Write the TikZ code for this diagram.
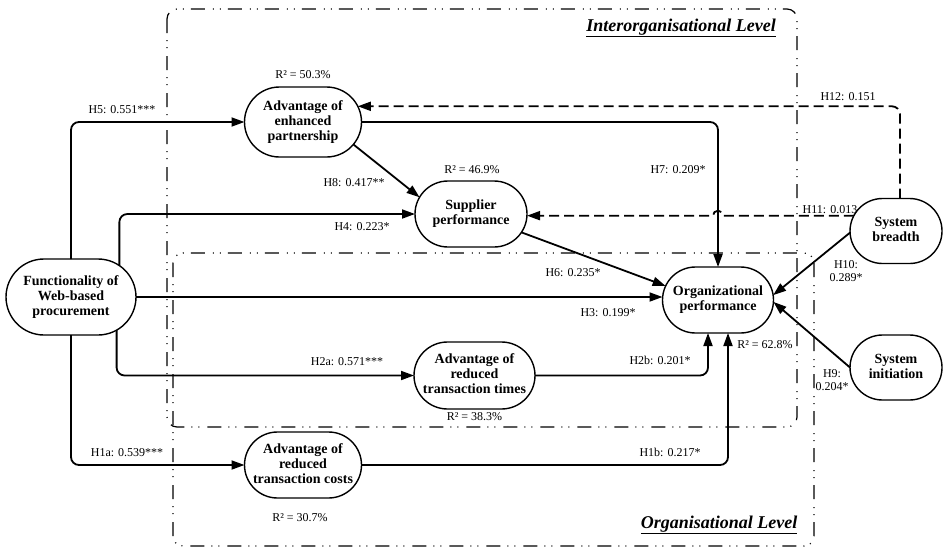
\documentclass[tikz,border=0pt]{standalone}
\usepackage{fontspec}
\setmainfont{Liberation Serif}
\usetikzlibrary{arrows.meta,shapes.misc,calc}
\newcommand\ntext[1]{\makebox[0pt]{\begin{tabular}{@{}c@{}}#1\end{tabular}}}
\begin{document}
\begin{tikzpicture}[x=1pt,y=-1pt,
  box/.style={rounded rectangle, draw, line width=1.4pt, fill=white, outer sep=0pt,
    inner xsep=0pt, inner ysep=0pt, font=\fontsize{14}{15}\selectfont\bfseries},
  lab/.style={font=\fontsize{12}{13}\selectfont, inner sep=0pt},
  arr/.style={line width=1.8pt, -{Triangle[length=13pt,width=9pt]}, rounded corners=8pt},
  darr/.style={arr, dash pattern=on 10pt off 5pt},
  level/.style={line width=1.2pt, dash pattern=on 14pt off 7pt on 1pt off 6pt on 1pt off 8pt, rounded corners=10pt},
  lvl/.style={font=\fontsize{18}{20}\selectfont\bfseries\itshape, inner sep=0pt}
]
\useasboundingbox (0,0) rectangle (944,549);

% level frames
\draw[level] (167,9) rectangle (797,427);
\draw[level] (173,253) rectangle (814,546);
\node[lvl] (L1) at (681,28) {\underline{Interorganisational Level}};
\node[lvl] (L2) at (719,525) {\underline{Organisational Level}};

% constructs
\node[box, minimum width=130pt, minimum height=76pt] (F) at (71,297) {\ntext{Functionality of\\Web-based\\procurement}};
\node[box, minimum width=117pt, minimum height=70pt] (P) at (303,122) {\ntext{Advantage of\\enhanced\\partnership}};
\node[box, minimum width=112pt, minimum height=66pt] (S) at (471,214) {\ntext{Supplier\\performance}};
\node[box, minimum width=111pt, minimum height=66pt] (O) at (718,300) {\ntext{Organizational\\performance}};
\node[box, minimum width=121pt, minimum height=67pt] (T) at (474.5,375.5) {\ntext{Advantage of\\reduced\\transaction times}};
\node[box, minimum width=117pt, minimum height=66pt] (C) at (303,465) {\ntext{Advantage of\\reduced\\transaction costs}};
\node[box, minimum width=92pt, minimum height=65pt] (B) at (896,231) {\ntext{System\\breadth}};
\node[box, minimum width=92pt, minimum height=65pt] (I) at (896,367.5) {\ntext{System\\initiation}};

% paths
\draw[arr] (F.north) |- (P.west);
\draw[arr] (F.33) |- (S.west);
\draw[arr] (F.east) -- (F.east -| O.west);
\draw[arr] (F.-36) |- (T.west);
\draw[arr] (F.south) |- (C.west);
\draw[arr] (C.east) -| ([xshift=10pt]O.south);
\draw[arr] (T.east) -| ([xshift=-10pt]O.south);
\draw[arr] (P.east) -| (O.north);
\draw[arr] (P.-24) -- (S.162);
\draw[arr] (S.-20) -- (O.165);
\draw[arr] (B.182) -- (O.5);
\draw[arr] (I.west) -- (O.-2);
\draw[darr, rounded corners=0pt] (B.160) -- ($(B.160 -| O.north)+(5,0)$)
  arc[start angle=0, end angle=-180, radius=5] -- (B.160 -| S.east);
\draw[darr] ([xshift=4pt]B.north) |- (P.16);

% R squared
\node[lab] (r1) at (303,75) {R² = 50.3\%};
\node[lab] (r2) at (472,170) {R² = 46.9\%};
\node[lab] (r3) at (765,345) {R² = 62.8\%};
\node[lab] (r4) at (474.5,417) {R² = 38.3\%};
\node[lab] (r5) at (300,518) {R² = 30.7\%};

% path coefficients
\node[lab] (h5) at (122,110) {H5: 0.551***};
\node[lab] (h8) at (354,183) {H8: 0.417**};
\node[lab] (h4) at (362,227) {H4: 0.223*};
\node[lab] (h7) at (678,170) {H7: 0.209*};
\node[lab] (h12) at (848,97) {H12: 0.151};
\node[lab] (h11) at (830,210) {H11: 0.013};
\node[lab] (h6) at (573,273) {H6: 0.235*};
\node[lab, align=center] (h10) at (846,271) {H10:\\0.289*};
\node[lab] (h3) at (608,313) {H3: 0.199*};
\node[lab] (h2b) at (660,360) {H2b: 0.201*};
\node[lab, align=center] (h9) at (832,380) {H9:\\0.204*};
\node[lab] (h1b) at (670,452) {H1b: 0.217*};
\node[lab] (h2a) at (347,362) {H2a: 0.571***};
\node[lab] (h1a) at (127,453) {H1a: 0.539***};
\end{tikzpicture}
\end{document}
